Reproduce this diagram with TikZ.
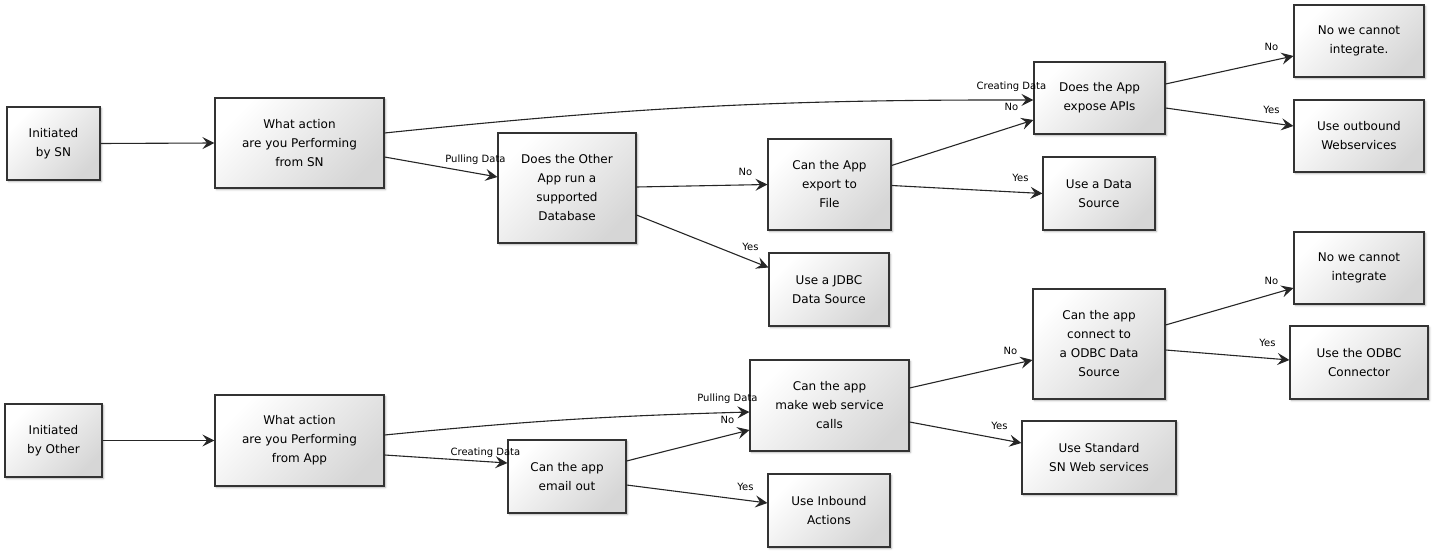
\documentclass[tikz,border=0pt]{standalone}
\usepackage{fontspec}
\setmainfont{DejaVu Sans}
\usetikzlibrary{arrows.meta,shadows.blur}

\begin{document}
\begin{tikzpicture}[x=1pt, y=-1pt,
    box/.style={draw=black!80, line width=1.1pt, align=center,
        top color=white, bottom color=black!16, shading angle=45,
        font=\fontsize{12}{19}\selectfont, inner sep=2pt,
        blur shadow={shadow blur steps=5, shadow xshift=1.5pt, shadow yshift=-1.5pt,
            shadow blur radius=2pt, shadow opacity=30}},
    flow/.style={draw=black!85, line width=1.1pt, -{Stealth[length=12pt, width=12pt, inset=4.5pt]}},
    lbl/.style={font=\fontsize{10}{11}\selectfont, pos=1, xshift=-22pt, yshift=13pt, inner sep=0pt}]

\useasboundingbox (0,0) rectangle (1435,553);

% ============================
% initiated by SN
\node[box, minimum width=93pt, minimum height=73pt] (initSN) at (53.5,143.5) {Initiated\\by SN};
\node[box, minimum width=169pt, minimum height=90pt] (actSN) at (299.5,143) {What action\\are you Performing\\from SN};
\node[box, minimum width=138pt, minimum height=110pt] (database) at (567,188) {Does the Other\\App run a\\supported\\Database};
\node[box, minimum width=123pt, minimum height=91pt] (export) at (829.5,184.5) {Can the App\\export to\\File};
\node[box, minimum width=120pt, minimum height=73pt] (jdbc) at (829,289.5) {Use a JDBC\\Data Source};
\node[box, minimum width=131pt, minimum height=72pt] (apis) at (1099.5,98) {Does the App\\expose APIs};
\node[box, minimum width=112pt, minimum height=73pt] (datasrc) at (1099,193.5) {Use a Data\\Source};
\node[box, minimum width=130pt, minimum height=72pt] (noSN) at (1359,41) {No we cannot\\integrate.};
\node[box, minimum width=130pt, minimum height=72pt] (outbound) at (1359,136) {Use outbound\\Webservices};

% ============================
% initiated by other
\node[box, minimum width=97pt, minimum height=73pt] (initOther) at (53.5,440.5) {Initiated\\by Other};
\node[box, minimum width=169pt, minimum height=91pt] (actApp) at (299.5,440.5) {What action\\are you Performing\\from App};
\node[box, minimum width=118pt, minimum height=73pt] (email) at (567,476.5) {Can the app\\email out};
\node[box, minimum width=159pt, minimum height=91pt] (websvc) at (829.5,405.5) {Can the app\\make web service\\calls};
\node[box, minimum width=122pt, minimum height=73pt] (inbound) at (829,510.5) {Use Inbound\\Actions};
\node[box, minimum width=132pt, minimum height=110pt] (odbc) at (1099,344) {Can the app\\connect to\\a ODBC Data\\Source};
\node[box, minimum width=154pt, minimum height=73pt] (stdws) at (1099,457.5) {Use Standard\\SN Web services};
\node[box, minimum width=130pt, minimum height=72pt] (noOther) at (1359,268) {No we cannot\\integrate};
\node[box, minimum width=138pt, minimum height=73pt] (connector) at (1359,362.5) {Use the ODBC\\Connector};

% ============================
\draw[flow] (initSN.east) -- (actSN.west);
\draw[flow] ([yshift=10pt]actSN.east) to[bend left=3]
    node[lbl] {Creating Data} ([yshift=-2pt]apis.west);
\draw[flow] ([yshift=-14pt]actSN.east) -- node[lbl, yshift=4pt] {Pulling Data} ([yshift=11pt]database.west);
\draw[flow] ([yshift=1pt]database.east) -- node[lbl] {No} (export.west);
\draw[flow] ([yshift=-27pt]database.east) -- node[lbl, xshift=4pt, yshift=8pt] {Yes} ([yshift=22pt]jdbc.west);
\draw[flow] ([yshift=19pt]export.east) -- node[lbl] {No} ([yshift=-22pt]apis.west);
\draw[flow] ([yshift=-1pt]export.east) -- node[lbl, yshift=3pt] {Yes} (datasrc.west);
\draw[flow] ([yshift=14pt]apis.east) -- node[lbl, yshift=-4pt] {No} ([yshift=-15pt]noSN.west);
\draw[flow] ([yshift=-10pt]apis.east) -- node[lbl, yshift=3pt] {Yes} ([yshift=10pt]outbound.west);

% ============================
\draw[flow] (initOther.east) -- (actApp.west);
\draw[flow] ([yshift=5.5pt]actApp.east) to[bend left=2]
    node[lbl] {Pulling Data} ([yshift=-6.5pt]websvc.west);
\draw[flow] ([yshift=-14.5pt]actApp.east) -- node[lbl, yshift=-3pt] {Creating Data} ([yshift=13.5pt]email.west);
\draw[flow] ([yshift=15.5pt]email.east) -- node[lbl, yshift=-3pt] {No} ([yshift=-24.5pt]websvc.west);
\draw[flow] ([yshift=-8.5pt]email.east) -- node[lbl, yshift=3pt] {Yes} ([yshift=7.5pt]inbound.west);
\draw[flow] ([yshift=17.5pt]websvc.east) -- node[lbl, yshift=-4pt] {No} ([yshift=-16pt]odbc.west);
\draw[flow] ([yshift=-16.5pt]websvc.east) -- node[lbl, yshift=4pt] {Yes} ([yshift=14.5pt]stdws.west);
\draw[flow] ([yshift=19pt]odbc.east) -- node[lbl, yshift=-6pt] {No} ([yshift=-20pt]noOther.west);
\draw[flow] ([yshift=-6pt]odbc.east) -- node[lbl, yshift=4pt] {Yes} ([yshift=2.5pt]connector.west);

\end{tikzpicture}
\end{document}
